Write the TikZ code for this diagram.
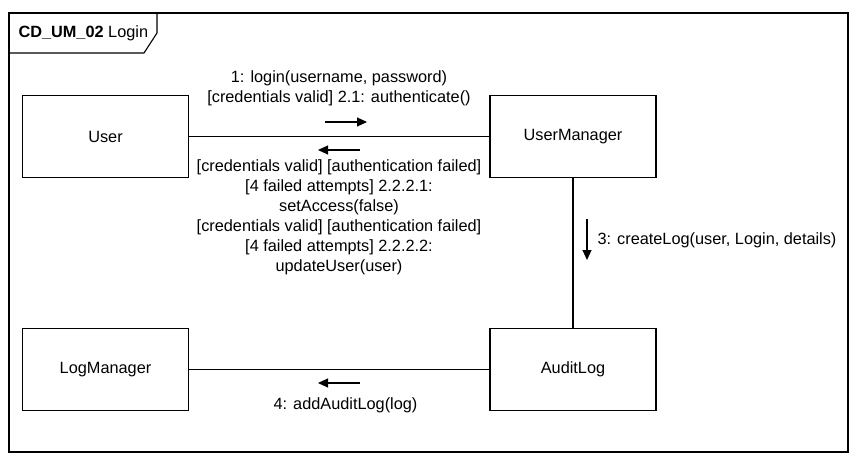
\documentclass[tikz,border=0pt]{standalone}
\usepackage{fontspec}
\setmainfont{Liberation Sans}
\usetikzlibrary{arrows.meta}
\begin{document}
\begin{tikzpicture}[x=1pt,y=-1pt,
  line width=1.1pt,
  every node/.style={font=\fontsize{16.3}{20}\selectfont, inner sep=0pt},
  obj/.style={draw, minimum width=166pt, minimum height=82pt, anchor=center, inner sep=0pt},
  msg/.style={-{Triangle[length=10pt,width=9pt]}, line width=1.1pt},
  lbl/.style={align=center, anchor=center}
]
\useasboundingbox (0,0) rectangle (861,465);
% frame
\draw (9,13) rectangle (848,452);
\draw (9,13) -- (157,13) -- (157,33) -- (144,53) -- (9,53);
\node[anchor=west] (title) at (18,33) {\textbf{CD\_UM\_02} Login};
% objects
\node[obj] (user) at (105.5,136.5) {User};
\node[obj] (um) at (573,136.5) {UserManager};
\node[obj] (lm) at (105.5,369.5) {LogManager};
\node[obj] (al) at (573,369.5) {AuditLog};
% links
\draw (user) -- (um);
\draw (um) -- (al);
\draw (lm) -- (al);
% message arrows
\coordinate (a1s) at (325,122); \coordinate (a1e) at (367,122);
\draw[msg] (a1s) -- (a1e);
\coordinate (a2s) at (360,150); \coordinate (a2e) at (318,150);
\draw[msg] (a2s) -- (a2e);
\coordinate (a3s) at (587,219); \coordinate (a3e) at (587,260);
\draw[msg] (a3s) -- (a3e);
\coordinate (a4s) at (360,383); \coordinate (a4e) at (318,383);
\draw[msg] (a4s) -- (a4e);
% labels
\node[lbl] (l1) at (339,88) {1: login(username, password)\\{}[credentials valid] 2.1: authenticate()};
\node[lbl] (l2) at (339,217) {[credentials valid] [authentication failed]\\{}[4 failed attempts] 2.2.2.1:\\setAccess(false)\\{}[credentials valid] [authentication failed]\\{}[4 failed attempts] 2.2.2.2:\\updateUser(user)};
\node[anchor=west] (l3) at (597,240) {3: createLog(user, Login, details)};
\node[lbl] (l4) at (345.5,405) {4: addAuditLog(log)};
\end{tikzpicture}
\end{document}
